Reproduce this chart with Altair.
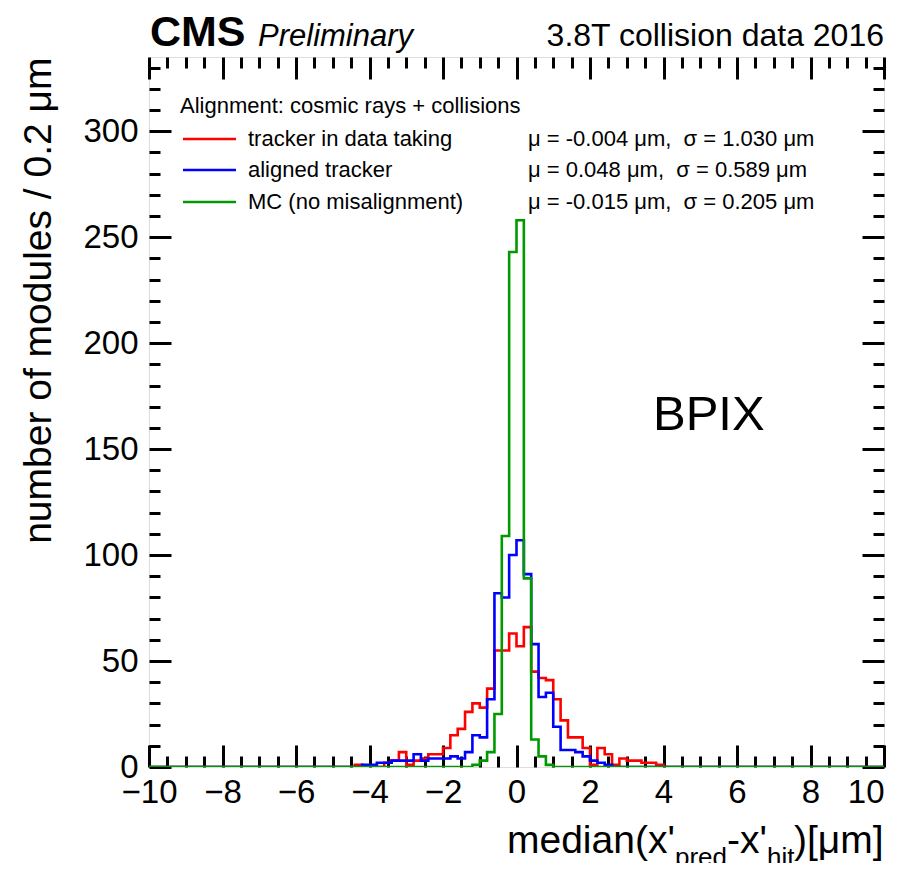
import altair as alt
import pandas as pd

# ---------------- data (bin width 0.2 um, range -10..10) ----------------
# counts for bins whose left edges run -4.6, -4.4, ..., 4.0 ; all other bins are empty
first_left_edge = -4.6
red_counts = [0, 1, 0, 0, 0, 2, 3, 7, 1, 3, 4, 6, 6, 9, 15, 18, 26, 30, 28, 37,
              55, 55, 63, 57, 66, 45, 42, 41, 32, 22, 14, 14, 9, 1, 9, 6, 1, 4, 3, 3,
              2, 2, 1, 0]
blue_counts = [0, 0, 1, 1, 2, 2, 3, 3, 3, 6, 3, 4, 4, 4, 5, 4, 7, 15, 14, 32,
               82, 80, 100, 107, 91, 58, 33, 35, 19, 8, 8, 7, 5, 3, 2, 1, 0, 0, 0, 0,
               0, 0, 0, 0]
green_counts = [0, 0, 0, 0, 0, 0, 0, 0, 0, 0, 0, 0, 0, 0, 0, 0, 0, 1, 3, 7,
                25, 109, 243, 258, 89, 13, 5, 1, 0, 0, 0, 0, 0, 0, 0, 0, 0, 0, 0, 0,
                0, 0, 0, 0]
series_names = ["tracker in data taking", "aligned tracker", "MC (no misalignment)"]
series_stats = ["\u03bc = -0.004 \u03bcm,\u00a0\u00a0\u03c3 = 1.030 \u03bcm",
                "\u03bc = 0.048 \u03bcm,\u00a0\u00a0\u03c3 = 0.589 \u03bcm",
                "\u03bc = -0.015 \u03bcm,\u00a0\u00a0\u03c3 = 0.205 \u03bcm"]
series_colors = ["#ff0000", "#0000ff", "#009a00"]

x_major = [-10, -8, -6, -4, -2, 0, 2, 4, 6, 8, 10]
y_major = [0, 50, 100, 150, 200, 250, 300]

NBINS = 100
BINW = 0.2
XMIN, XMAX = -10.0, 10.0
YMAX = 335

W, H = 735, 710
FONT = "Liberation Sans"


def hist_frame(counts):
    start = int(round((first_left_edge - XMIN) / BINW))
    full = [0] * NBINS
    for i, c in enumerate(counts):
        full[start + i] = c
    xs = [round(XMIN + BINW * i, 1) for i in range(NBINS)] + [XMAX]
    ys = full + [full[-1]]
    return pd.DataFrame({"x": xs, "count": ys})


xscale = alt.Scale(domain=[XMIN, XMAX], nice=False, zero=False)
yscale = alt.Scale(domain=[0, YMAX], nice=False, zero=False)

x_minor = [v / 2 for v in range(-20, 21) if v % 4 != 0]
y_minor = [v for v in range(0, YMAX + 1, 10) if v % 50 != 0]


def tick_axis(orient, values, size, offset):
    return alt.Axis(orient=orient, values=values, tickSize=size, tickWidth=3,
                    tickColor="black", labels=False, domain=False, grid=False,
                    title=None, offset=offset)


x_label_axis = alt.Axis(orient="bottom", values=x_major, ticks=False, domain=False,
                        grid=False, labelFont=FONT, labelFontSize=33,
                        labelColor="black", labelPadding=9, labelFlush=False,
                        labelAlign=alt.condition("datum.value == 10",
                                                 alt.value("right"),
                                                 alt.value("center")),
                        labelOverlap=False, title=None)
y_label_axis = alt.Axis(orient="left", values=y_major, ticks=False, domain=False,
                        grid=False, labelFont=FONT, labelFontSize=33,
                        labelColor="black", labelPadding=11, labelOverlap=False,
                        title="number of modules / 0.2 \u03bcm", titleFont=FONT,
                        titleFontSize=39, titleFontWeight="normal", titleColor="black",
                        titleX=-99, titleY=0, titleAlign="right", titleAngle=270,
                        titleBaseline="alphabetic")

axis_sets = [
    (x_label_axis, y_label_axis),
    (tick_axis("top", x_major, 22, -H), tick_axis("right", y_major, 22, -W)),
    (tick_axis("top", x_minor, 11, -H), tick_axis("right", y_minor, 11, -W)),
    (tick_axis("bottom", x_major, 22, -H), tick_axis("left", y_major, 22, -W)),
    (tick_axis("bottom", x_minor, 11, -H), tick_axis("left", y_minor, 11, -W)),
]

all_counts = [red_counts, blue_counts, green_counts]
layers = []
for i, (xa, ya) in enumerate(axis_sets):
    if i < 3:
        df = hist_frame(all_counts[i])
        color = series_colors[i]
        opacity = 1
    else:
        df = hist_frame(green_counts)
        color = series_colors[2]
        opacity = 0
    layers.append(
        alt.Chart(df).mark_line(interpolate="step-after", strokeWidth=2.6,
                                color=color, opacity=opacity, clip=True).encode(
            x=alt.X("x:Q", scale=xscale, axis=xa),
            y=alt.Y("count:Q", scale=yscale, axis=ya),
        )
    )

one = pd.DataFrame({"k": [0]})


def txt(text, x, y, size, align="left", baseline="alphabetic", weight="normal",
        style="normal", font=FONT):
    return alt.Chart(one).mark_text(
        text=text, align=align, baseline=baseline, fontSize=size, font=font,
        fontWeight=weight, fontStyle=style, color="black"
    ).encode(x=alt.value(x), y=alt.value(y))


annotations = [
    txt("CMS", 1, -11, 43, weight="bold"),
    txt("Preliminary", 109, -11, 31, style="italic"),
    txt("3.8T collision data 2016", 735, -11, 32, align="right"),
    txt("Alignment: cosmic rays + collisions", 31, 56, 22),
    txt("BPIX", 504, 358, 49, baseline="middle"),
    # x-axis title with subscripts
    txt("median(x'", 358, 796, 39),
    txt("pred", 526, 809, 26),
    txt("-x'", 578, 796, 39),
    txt("hit", 618, 809, 26),
    txt(")[\u03bcm]", 645, 796, 39),
]
row_y = [82, 113, 145]
for i in range(3):
    annotations.append(
        alt.Chart(one).mark_rule(strokeWidth=2.6, color=series_colors[i]).encode(
            x=alt.value(34), x2=alt.value(87), y=alt.value(row_y[i]))
    )
    annotations.append(txt(series_names[i], 99, row_y[i], 22, baseline="middle"))
    annotations.append(txt(series_stats[i], 379, row_y[i], 22, baseline="middle"))

chart = alt.layer(*layers, *annotations).resolve_axis(
    x="independent", y="independent"
).properties(
    width=W, height=H,
    autosize=alt.AutoSizeParams(type="none"),
    padding={"left": 141, "top": 49, "right": 13, "bottom": 96},
).configure_view(stroke="black", strokeWidth=3).configure(background="white")

chart.save("out.html", embed_options={"renderer": "svg", "actions": False})
